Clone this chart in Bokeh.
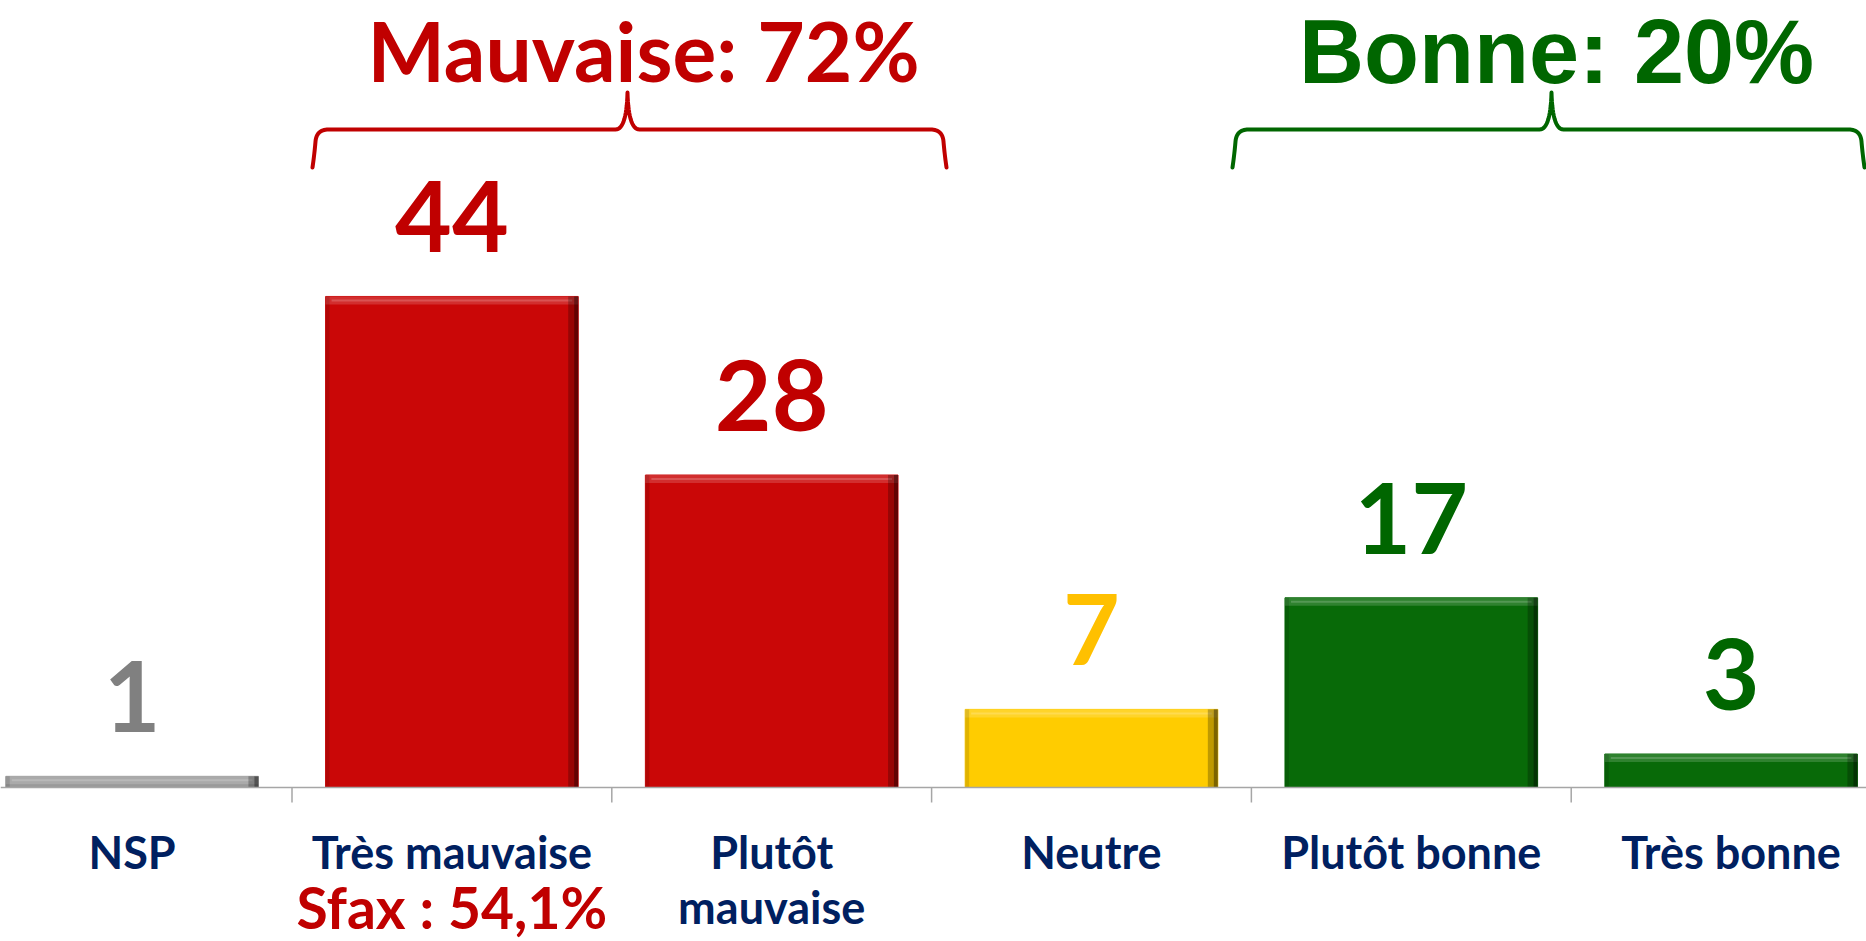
import numpy as np
from bokeh.plotting import figure
from bokeh.models import Range1d, ColumnDataSource, Label, Span
from bokeh.embed import file_html
from bokeh.resources import INLINE

# ---------------- data ----------------
categories = ["NSP", "Très mauvaise", "Plutôt", "Neutre", "Plutôt bonne", "Très bonne"]
category_second_line = ["", "", "mauvaise", "", "", ""]
values = [1, 44, 28, 7, 17, 3]
bar_colors = ["#9A9A9A", "#CA0707", "#CA0707", "#FFCC00", "#086A08", "#086A08"]
label_colors = ["#808080", "#C00000", "#C00000", "#FFC000", "#006600", "#006600"]
group_titles = ["Mauvaise: 72%", "Bonne: 20%"]
group_colors = ["#C00000", "#006600"]
sub_note = "Sfax : 54,1%"

# ---------------- layout ----------------
W, H = 1866, 941
PX_X = 319.8   # pixels per category
PX_Y = 11.16   # pixels per percent
AXIS_Y = 787   # pixel row of the category axis
C0 = 131.6     # pixel column of the first category centre

def Y(ref):
    return (AXIS_Y - ref) / PX_Y

def X(ref):
    return (ref - C0) / PX_X

p = figure(width=W, height=H, output_backend="svg", toolbar_location=None,
           x_range=Range1d(X(0), X(W)), y_range=Range1d(Y(H), Y(0)),
           min_border_left=0, min_border_right=0, min_border_top=0,
           min_border_bottom=0)
p.outline_line_color = None
p.xgrid.visible = False
p.ygrid.visible = False
p.xaxis.visible = False
p.yaxis.visible = False

xs = list(range(len(categories)))
src = ColumnDataSource(dict(x=xs, v=values, c=bar_colors))

bw = 0.79
p.vbar(x="x", top="v", width=bw, bottom=0, fill_color="c", line_color="c", source=src)

# bevel effect
xa = np.array(xs, dtype=float)
va = np.array(values, dtype=float)
hl = bw / 2
p.quad(left=xa - hl, right=xa + hl, top=va, bottom=np.maximum(va - 8 / PX_Y, 0),
       fill_color="white", fill_alpha=0.16, line_color=None)
p.quad(left=xa - hl + 6 / PX_X, right=xa + hl - 6 / PX_X, top=va - 3 / PX_Y,
       bottom=np.maximum(va - 5 / PX_Y, 0),
       fill_color="white", fill_alpha=0.18, line_color=None)
p.quad(left=xa + hl - 10 / PX_X, right=xa + hl, top=va, bottom=0,
       fill_color="black", fill_alpha=0.25, line_color=None)
p.quad(left=xa + hl - 4 / PX_X, right=xa + hl, top=va, bottom=0,
       fill_color="black", fill_alpha=0.35, line_color=None)
p.quad(left=xa - hl, right=xa - hl + 4 / PX_X, top=va, bottom=0,
       fill_color="black", fill_alpha=0.12, line_color=None)

# category axis line and boundary ticks
p.add_layout(Span(location=0, dimension="width", line_color="#A6A6A6", line_width=1.5))
bounds = [i + 0.5 for i in xs[:-1]]
p.segment(x0=bounds, y0=[0] * len(bounds), x1=bounds, y1=[-15 / PX_Y] * len(bounds),
          line_color="#A6A6A6", line_width=1.5)

# braces
def qbez(p0, c, p1, n=16):
    t = np.linspace(0, 1, n)[:, None]
    p0, c, p1 = np.array(p0), np.array(c), np.array(p1)
    return (1 - t) ** 2 * p0 + 2 * (1 - t) * t * c + t ** 2 * p1

def brace_px(X0, X1, XP, Yb, Yh, Yp):
    pts = [np.array([[X0, Yb]])]
    pts.append(qbez((X0, Yb), (X0 + 2, Yb - 14), (X0 + 3, Yh + 12)))
    pts.append(qbez((X0 + 3, Yh + 12), (X0 + 4, Yh), (X0 + 16, Yh)))
    pts.append(np.array([[XP - 12, Yh]]))
    pts.append(qbez((XP - 12, Yh), (XP - 1, Yh), (XP, Yp)))
    pts.append(qbez((XP, Yp), (XP + 1, Yh), (XP + 12, Yh)))
    pts.append(np.array([[X1 - 16, Yh]]))
    pts.append(qbez((X1 - 16, Yh), (X1 - 4, Yh), (X1 - 3, Yh + 12)))
    pts.append(qbez((X1 - 3, Yh + 12), (X1 - 2, Yb - 14), (X1, Yb)))
    arr = np.vstack(pts)
    return X(arr[:, 0]), Y(arr[:, 1])

braces = [(312, 946, 627), (1232, 1864, 1551)]
for (x0, x1, xp), col in zip(braces, group_colors):
    bx, by = brace_px(x0, x1, xp, 167, 129, 92)
    p.line(list(bx), list(by), line_color=col, line_width=4, line_join="round", line_cap="round")

def txt(x, y, text, color, size, font="Lato"):
    p.add_layout(Label(x=x, y=y, text=text, text_color=color, text_font=font,
                       text_font_style="bold", text_font_size=size,
                       text_align="center", text_baseline="top"))

# group titles
title_pos = [(643, 0, "Lato", "82px"), (1556, 1, "Liberation Sans", "90px")]
for (tx, ty, tf, tsz), title, col in zip(title_pos, group_titles, group_colors):
    txt(X(tx), Y(ty), title, col, tsz, tf)

# category labels
for i in xs[1:]:
    txt(i, Y(824), categories[i], "#002060", "45px")
    if category_second_line[i]:
        txt(i, Y(879), category_second_line[i], "#002060", "45px")
txt(1, Y(872), sub_note, "#C00000", "57px")
txt(0, Y(824), categories[0], "#002060", "45px")

# value labels, placed through the data scales
order = sorted(xs, key=lambda i: (xs[i] == 0, i))
for i in order:
    txt(xs[i], values[i] + 115 / PX_Y, str(values[i]), label_colors[i], "98px")

open("out.html", "w").write(file_html(p, INLINE))
